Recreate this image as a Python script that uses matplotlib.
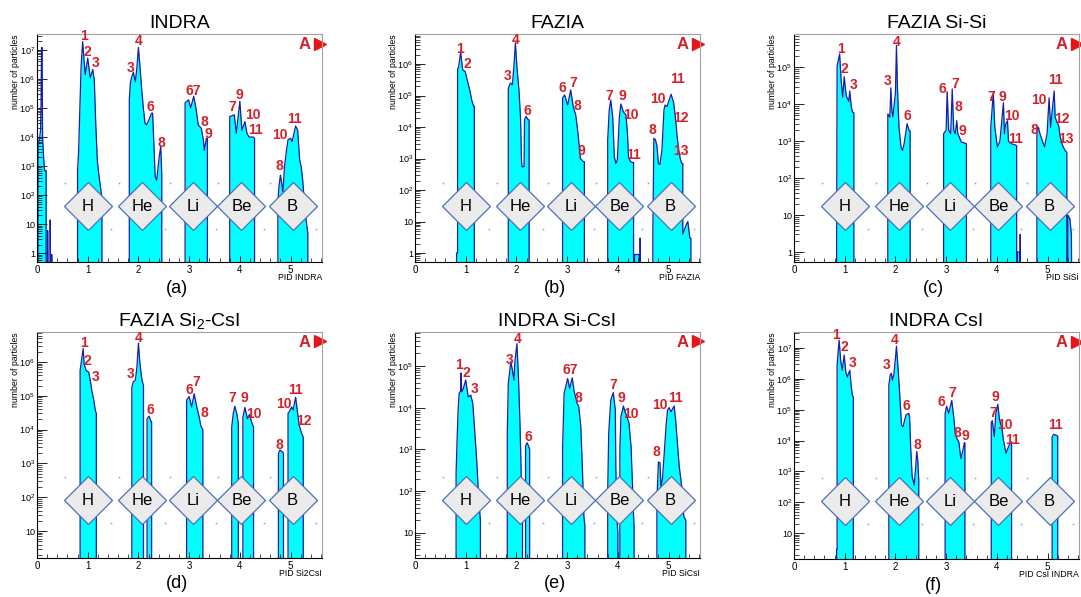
"""
Six PID spectra (INDRA / FAZIA telescopes), log-scale filled histograms
with element boxes and isotope mass labels.
"""
import numpy as np
import matplotlib
matplotlib.use('Agg')
import matplotlib.pyplot as plt
from matplotlib.ticker import FixedLocator, MultipleLocator, FuncFormatter, NullFormatter
from matplotlib.transforms import offset_copy

plt.rcParams['font.family'] = ['Liberation Sans', 'DejaVu Sans']
plt.rcParams['mathtext.fontset'] = 'custom'
plt.rcParams['mathtext.rm'] = 'Liberation Sans'
plt.rcParams['mathtext.it'] = 'Liberation Sans:italic'
plt.rcParams['mathtext.bf'] = 'Liberation Sans:bold'

F = 1e-2  # empty bins (below every y range)

# ---- histogram outlines: (PID, counts) ----
INDRA_HIST = [
    (0.02, F), (0.02, 5e3), (0.05, 9e3), (0.07, 1.7e4), (0.08, 1.5e5), (0.09, 1.2e7), (0.10, 1.2e7),
    (0.11, 1e4), (0.13, 2e3), (0.15, 7e2), (0.18, 7e2), (0.18, F), (0.21, F), (0.21, 6), (0.22, F),
    (0.26, F), (0.26, 14), (0.27, F), (0.29, F), (0.29, 0.9), (0.30, F),
    (0.80, F), (0.80, 700), (0.82, 3e3), (0.85, 1.9e5), (0.87, 2.7e6), (0.90, 1.9e7), (0.95, 1.4e6),
    (1.00, 5.2e6), (1.05, 1.1e6), (1.10, 2.1e6), (1.13, 9e5), (1.16, 2.5e4), (1.19, 1.5e3),
    (1.22, 500), (1.25, 200), (1.28, 80), (1.28, F),
    (1.82, F), (1.82, 1.9e5), (1.84, 7e5), (1.87, 1.2e6), (1.90, 1.7e6), (1.94, 8e5), (1.97, 2.5e6),
    (2.00, 1.2e7), (2.03, 2.75e6), (2.06, 5.5e5), (2.10, 8.7e4), (2.13, 3e4), (2.16, 2.6e4),
    (2.21, 4e4), (2.26, 6.6e4), (2.28, 6.6e4), (2.31, 3.5e3), (2.33, 430), (2.36, 320),
    (2.41, 2.1e3), (2.44, 4.7e3), (2.46, 560), (2.46, F),
    (2.92, F), (2.92, 1.5e5), (2.99, 1.9e5), (3.03, 1e5), (3.09, 2.5e5), (3.13, 1.1e5), (3.18, 2.6e4),
    (3.24, 2e4), (3.28, 8e3), (3.30, 3.5e3), (3.34, 9e3), (3.36, 9e3), (3.36, F),
    (3.80, F), (3.80, 5e4), (3.89, 5.8e4), (3.93, 1.35e4), (4.00, 1.7e5), (4.04, 1.7e4), (4.10, 3.4e4),
    (4.14, 1.35e4), (4.18, 1e4), (4.26, 1e4), (4.29, 9e3), (4.29, F),
    (4.75, F), (4.75, 60), (4.77, 190), (4.80, 490), (4.85, 130), (4.88, 950), (4.92, 3.5e3),
    (4.95, 8e3), (5.00, 9e3), (5.03, 7e3), (5.10, 2.4e4), (5.14, 1.7e4), (5.18, 1.6e3),
    (5.21, 950), (5.24, 320), (5.29, 23), (5.34, 5), (5.34, F),
]
FAZIA_HIST = [
    (0.82, F), (0.82, 1), (0.84, 1), (0.84, 7e5), (0.86, 8e5), (0.90, 2.4e6), (0.94, 6.6e5),
    (0.99, 5.8e5), (1.02, 3.6e5), (1.08, 1.5e5), (1.12, 7e4), (1.16, 4.5e4), (1.17, 4.5e4), (1.17, F),
    (1.84, F), (1.84, 1.7e5), (1.88, 2.5e5), (1.92, 2.2e5), (1.95, 8.3e5), (1.98, 4.7e6), (2.01, 8e5),
    (2.05, 1.5e5), (2.08, 2.1e4), (2.10, 900), (2.11, 550), (2.15, 550), (2.16, 1.7e4),
    (2.19, 2.2e4), (2.23, 1.7e4), (2.25, 1.7e4), (2.25, F),
    (2.91, F), (2.91, 8.3e4), (2.95, 1.05e5), (3.01, 5e4), (3.07, 1.5e5), (3.12, 4.5e4), (3.17, 2.4e4),
    (3.20, 1e4), (3.24, 2.4e3), (3.26, 1e3), (3.28, 930), (3.32, 800), (3.34, 800), (3.34, F),
    (3.80, F), (3.80, 3.9e3), (3.83, 3.5e4), (3.86, 7.2e4), (3.90, 2e4), (3.93, 1.15e3), (3.96, 700),
    (3.99, 900), (4.03, 2.1e4), (4.06, 5.4e4), (4.11, 3e4), (4.16, 2.4e4), (4.19, 6.3e3),
    (4.21, 1.15e3), (4.25, 800), (4.29, 750), (4.31, 750), (4.31, F),
    (4.33, F), (4.33, 0.9), (4.42, 0.9), (4.42, F), (4.44, F), (4.44, 3), (4.45, F),
    (4.69, F), (4.69, 4), (4.71, 4.4e3), (4.74, 4e3), (4.77, 2.6e3), (4.80, 700), (4.83, 650),
    (4.87, 1.9e3), (4.91, 3.5e4), (4.93, 5e4), (4.97, 4.5e4), (5.05, 1.1e5), (5.10, 6e4),
    (5.14, 1.7e4), (5.17, 4.9e3), (5.20, 1.9e3), (5.23, 1e3), (5.26, 700), (5.28, 700),
    (5.28, 4), (5.35, 8), (5.38, 10), (5.42, 3), (5.44, 3), (5.44, F),
]
SISI_HIST = [
    (0.84, F), (0.84, 1), (0.85, 1.1e5), (0.90, 2.3e5), (0.93, 4.4e4), (0.96, 1.55e4), (0.99, 5.6e4),
    (1.03, 1.7e4), (1.08, 1.2e4), (1.10, 2.3e4), (1.13, 8.3e3), (1.16, 6e3), (1.18, 6e3), (1.18, F),
    (1.85, F), (1.85, 5.5e3), (1.89, 4.5e3), (1.91, 2.8e4), (1.93, 6.8e3), (1.95, 4.6e3), (2.00, 2e4),
    (2.02, 3.9e5), (2.04, 2.8e4), (2.07, 2.4e3), (2.11, 700), (2.14, 560), (2.17, 840),
    (2.21, 1.95e3), (2.23, 3e3), (2.27, 1.95e3), (2.29, 1.9e3), (2.29, F),
    (2.95, F), (2.95, 1.6e3), (3.00, 2e3), (3.02, 2.2e4), (3.05, 2e3), (3.09, 1.6e3), (3.12, 2.6e4),
    (3.15, 2e3), (3.18, 1.6e3), (3.21, 3.6e3), (3.23, 1.6e3), (3.26, 1.3e3), (3.30, 950),
    (3.36, 900), (3.40, 850), (3.40, F),
    (3.88, F), (3.88, 2.4e3), (3.93, 2.1e4), (3.96, 2.4e3), (4.01, 700), (4.06, 1e3), (4.13, 1.1e4),
    (4.15, 1.6e3), (4.17, 2.8e3), (4.21, 3.6e3), (4.23, 1e3), (4.29, 850), (4.36, 800),
    (4.39, 750), (4.39, F), (4.40, F), (4.40, 1), (4.45, 1), (4.45, F), (4.46, F), (4.46, 3), (4.47, F),
    (4.79, F), (4.79, 2.1e3), (4.82, 2.4e3), (4.85, 1.6e3), (4.94, 700), (4.99, 1.6e3), (5.03, 1.5e4),
    (5.06, 2.4e3), (5.13, 2.3e4), (5.15, 4.4e3), (5.22, 2.6e3), (5.25, 1.3e3), (5.30, 750),
    (5.35, 550), (5.38, 500), (5.38, F), (5.40, F), (5.40, 10), (5.44, 8), (5.47, 3), (5.48, F),
]
SI2CSI_HIST = [
    (0.85, F), (0.85, 5.6e5), (0.91, 2.5e6), (0.93, 8.5e5), (0.97, 5.6e5), (1.02, 5e5), (1.05, 2.9e5),
    (1.08, 1.45e5), (1.12, 7.4e4), (1.15, 3.7e4), (1.17, 3e4), (1.17, F),
    (1.87, F), (1.87, 1.8e5), (1.90, 2.6e5), (1.94, 2.9e5), (1.97, 7e5), (2.00, 3.6e6), (2.03, 9e5),
    (2.07, 2.9e5), (2.10, 2e5), (2.10, F),
    (2.17, F), (2.17, 2.1e4), (2.21, 2.5e4), (2.25, 1.7e4), (2.26, 1.7e4), (2.26, F),
    (2.95, F), (2.95, 7.4e4), (3.00, 9.5e4), (3.05, 4.7e4), (3.10, 1.15e5), (3.15, 4.7e4),
    (3.20, 2.3e4), (3.23, 1.3e4), (3.27, 1e4), (3.27, F),
    (3.84, F), (3.84, 1.2e4), (3.87, 3e4), (3.90, 4.9e4), (3.94, 3e4), (3.97, 1.5e4), (3.97, F),
    (4.06, F), (4.06, 2.3e4), (4.10, 4.5e4), (4.15, 2.1e4), (4.19, 2.8e4), (4.23, 1.7e4),
    (4.27, 1.2e4), (4.27, F),
    (4.76, F), (4.76, 1.95e3), (4.79, 2.5e3), (4.84, 2.2e3), (4.86, 2e3), (4.86, F),
    (4.95, F), (4.95, 3e4), (4.99, 3.7e4), (5.02, 4.7e4), (5.05, 3.8e4), (5.10, 9e4), (5.14, 3e4),
    (5.17, 1.35e4), (5.22, 7.6e3), (5.25, 6e3), (5.25, F),
]
SICSI_HIST = [
    (0.81, F), (0.81, 270), (0.83, 1.7e3), (0.85, 8.7e3), (0.87, 2.2e4), (0.90, 2.5e4), (0.91, 6.8e4),
    (0.92, 2.4e4), (0.95, 2.8e4), (1.00, 4.6e4), (1.05, 1.8e4), (1.10, 2e4), (1.14, 1.25e4),
    (1.18, 2.5e3), (1.22, 470), (1.25, 90), (1.27, 40), (1.29, 20), (1.29, F),
    (1.82, F), (1.82, 2.5e3), (1.84, 3.8e4), (1.89, 1.26e5), (1.92, 8e4), (1.95, 4.6e4), (1.97, 1.3e5),
    (2.01, 3.4e5), (2.04, 5.5e4), (2.07, 4.2e3), (2.10, 130), (2.12, 30), (2.12, F),
    (2.18, F), (2.18, 1.2e3), (2.21, 1.45e3), (2.24, 1.2e3), (2.26, 1e3), (2.26, F),
    (2.91, F), (2.91, 1e3), (2.94, 2.2e4), (3.01, 5e4), (3.05, 2.9e4), (3.10, 5.2e4), (3.14, 2.4e4),
    (3.20, 1.25e4), (3.23, 1.05e4), (3.27, 3.5e3), (3.30, 390), (3.33, 25), (3.35, 15), (3.35, F),
    (3.80, F), (3.80, 100), (3.82, 2.5e3), (3.86, 1.5e4), (3.91, 2.3e4), (3.95, 8.7e3), (3.96, 390),
    (3.98, 25), (4.00, 10), (4.00, F),
    (4.04, F), (4.04, 1e3), (4.06, 6e3), (4.11, 1.1e4), (4.14, 8e3), (4.18, 6e3), (4.22, 4.2e3),
    (4.26, 1.2e3), (4.29, 130), (4.31, 25), (4.32, 15), (4.32, F),
    (4.77, F), (4.77, 60), (4.80, 500), (4.83, 480), (4.85, 130), (4.88, 200), (4.92, 1e3),
    (4.95, 3.5e3), (4.98, 8.7e3), (5.01, 1e4), (5.05, 8e3), (5.11, 1.1e4), (5.14, 5e3),
    (5.17, 1.7e3), (5.21, 390), (5.26, 130), (5.30, 25), (5.34, 20), (5.34, F),
]
CSI_HIST = [
    (0.84, F), (0.84, 3), (0.85, 3), (0.85, 2.8e6), (0.89, 1.8e7), (0.92, 4e6), (0.95, 1.9e6),
    (0.99, 5.9e6), (1.02, 1.7e6), (1.05, 1.15e6), (1.10, 1.9e6), (1.13, 5.5e5), (1.15, 3e5),
    (1.17, 2.5e5), (1.17, F),
    (1.87, F), (1.87, 6.3e5), (1.90, 1.4e6), (1.92, 1.5e6), (1.94, 9e5), (1.97, 1.4e6), (2.00, 4.6e6),
    (2.02, 1.15e7), (2.05, 2.5e6), (2.08, 4.3e5), (2.12, 3.2e4), (2.15, 2.8e4), (2.18, 4.5e4),
    (2.21, 6.8e4), (2.26, 7.6e4), (2.28, 6e4), (2.30, 6.3e3), (2.33, 680), (2.37, 360),
    (2.40, 1.4e3), (2.42, 4.4e3), (2.44, 2.3e3), (2.46, 530), (2.46, F),
    (2.98, F), (2.98, 7.6e4), (3.01, 1.3e5), (3.05, 7.6e4), (3.11, 2e5), (3.15, 5.9e4), (3.18, 1.7e4),
    (3.21, 1.2e4), (3.25, 9e3), (3.29, 2.6e3), (3.33, 4.8e3), (3.36, 8.5e3), (3.37, 8.5e3), (3.37, F),
    (3.89, F), (3.89, 3.8e4), (3.91, 4.4e4), (3.95, 1.35e4), (3.98, 7.6e4), (4.02, 1.5e5), (4.05, 4.9e4),
    (4.10, 2.5e4), (4.13, 1.05e4), (4.18, 3.9e3), (4.23, 6.3e3), (4.27, 9e3), (4.29, 9e3), (4.29, F),
    (5.09, F), (5.09, 1.3e4), (5.12, 1.6e4), (5.18, 1.45e4), (5.20, 1.4e4), (5.20, F),
]

# ---- isotope mass labels: (text, PID, counts) ----
INDRA_MASS = [
    ("1", 0.92, 2.95e7), ("2", 1.00, 8.5e6), ("3", 1.15, 3.4e6), ("3", 1.85, 2.4e6), ("4", 2.00, 2e7),
    ("6", 2.23, 1.1e5), ("8", 2.46, 6e3), ("67", 3.08, 3.7e5), ("8", 3.31, 3.4e4), ("9", 3.37, 1.26e4),
    ("7", 3.85, 1.07e5), ("9", 4.00, 2.8e5), ("10", 4.25, 5.8e4), ("11", 4.31, 1.7e4),
    ("8", 4.77, 1e3), ("10", 4.78, 1.2e4), ("11", 5.08, 4.1e4),
]
FAZIA_MASS = [
    ("1", 0.88, 3e6), ("2", 1.04, 1e6), ("3", 1.82, 4.3e5), ("4", 1.98, 5.6e6), ("6", 2.21, 3.2e4),
    ("6", 2.91, 1.7e5), ("7", 3.12, 2.5e5), ("8", 3.20, 4.5e4), ("9", 3.29, 1.8e3),
    ("7", 3.83, 9.8e4), ("9", 4.08, 9.8e4), ("10", 4.25, 2.4e4), ("11", 4.31, 1.3e3),
    ("8", 4.69, 8e3), ("10", 4.79, 8e4), ("11", 5.18, 3.3e5), ("12", 5.25, 1.9e4), ("13", 5.25, 1.8e3),
]
SISI_MASS = [
    ("1", 0.93, 3.2e5), ("2", 0.99, 9e4), ("3", 1.17, 3.4e4), ("3", 1.85, 4.4e4), ("4", 2.02, 4.8e5),
    ("6", 2.24, 4.9e3), ("6", 2.93, 2.6e4), ("7", 3.17, 3.5e4), ("8", 3.25, 8.3e3), ("9", 3.33, 1.9e3),
    ("7", 3.88, 1.6e4), ("9", 4.11, 1.6e4), ("10", 4.29, 4.9e3), ("11", 4.36, 1.15e3),
    ("8", 4.74, 2e3), ("10", 4.83, 1.35e4), ("11", 5.15, 4.6e4), ("12", 5.28, 4e3), ("13", 5.37, 1.15e3),
]
SI2CSI_MASS = [
    ("1", 0.93, 3.6e6), ("2", 1.00, 1.07e6), ("3", 1.15, 3.5e5), ("3", 1.84, 4.5e5), ("4", 2.00, 5.2e6),
    ("6", 2.23, 3.9e4), ("6", 3.00, 1.5e5), ("7", 3.15, 2.6e5), ("8", 3.31, 3.1e4),
    ("7", 3.85, 8.5e4), ("9", 4.08, 8.5e4), ("10", 4.27, 2.95e4),
    ("8", 4.78, 3.6e3), ("10", 4.87, 5.9e4), ("11", 5.10, 1.5e5), ("12", 5.26, 1.86e4),
]
SICSI_MASS = [
    ("1", 0.86, 1.05e5), ("2", 1.02, 6.8e4), ("3", 1.18, 2.75e4), ("3", 1.86, 1.4e5), ("4", 2.02, 4.3e5),
    ("6", 2.24, 2e3), ("67", 3.07, 7.9e4), ("8", 3.22, 1.66e4),
    ("7", 3.91, 3.5e4), ("9", 4.07, 1.66e4), ("10", 4.25, 7.2e3),
    ("8", 4.75, 890), ("10", 4.83, 1.15e4), ("11", 5.14, 1.74e4),
]
CSI_MASS = [
    ("1", 0.83, 2.7e7), ("2", 0.99, 1.07e7), ("3", 1.15, 3.3e6), ("3", 1.82, 2.75e6), ("4", 1.99, 1.86e7),
    ("6", 2.21, 1.3e5), ("8", 2.44, 7.2e3), ("6", 2.90, 1.8e5), ("7", 3.13, 3.4e5), ("8", 3.22, 1.8e4),
    ("9", 3.38, 1.4e4), ("7", 3.92, 7.9e4), ("9", 3.98, 2.5e5), ("10", 4.16, 3.2e4), ("11", 4.31, 1.05e4),
    ("11", 5.15, 3.2e4),
]

ELEMENTS = ['H', 'He', 'Li', 'Be', 'B']
ELEMENT_PID = [1.0, 2.08, 3.08, 4.03, 5.04]

TITLES = ['INDRA', 'FAZIA', 'FAZIA Si-Si', r'FAZIA Si$_2$-CsI', 'INDRA Si-CsI', 'INDRA CsI']
XLABELS = ['PID INDRA', 'PID FAZIA', 'PID SiSi', 'PID Si2CsI', 'PID SiCsI', 'PID CsI INDRA']
TAGS = ['(a)', '(b)', '(c)', '(d)', '(e)', '(f)']
HISTS = [INDRA_HIST, FAZIA_HIST, SISI_HIST, SI2CSI_HIST, SICSI_HIST, CSI_HIST]
MASSES = [INDRA_MASS, FAZIA_MASS, SISI_MASS, SI2CSI_MASS, SICSI_MASS, CSI_MASS]
YLIMS = [(0.5, 3.5e7), (0.52, 9e6), (0.54, 8e5), (1.6, 7.7e6), (2.5, 6.5e5), (1.45, 3.3e7)]

RED = '#d4202a'
W, H = 1081, 597
# axes boxes in pixels: left, top, right, bottom
BOXES = [(37, 34, 322, 262), (415, 34, 700, 262), (794, 34, 1079, 262),
         (37, 332, 322, 558), (415, 332, 700, 558), (794, 332, 1079, 559)]


def ytick_fmt(v, pos):
    e = int(round(np.log10(v)))
    if e == 0:
        return '1'
    if e == 1:
        return '10'
    return r'$10^{%d}$' % e


def draw_panel(fig, box, hist, masses, ylim, title, xlabel, tag, diamond_y):
    l, t, r, b = box
    ax = fig.add_axes([l / W, 1 - b / H, (r - l) / W, (b - t) / H])
    pts = np.array(hist)
    ax.fill_between(pts[:, 0], F, pts[:, 1], color='#00ffff', lw=0)
    ax.plot(pts[:, 0], pts[:, 1], color='#1c1ca8', lw=0.9)
    ax.set_yscale('log')
    ax.set_xlim(0, 5.62)
    ax.set_ylim(*ylim)

    # only decades (and sub-decade ticks) inside the visible range
    lo, hi = np.log10(ylim[0]), np.log10(ylim[1])
    decades = np.arange(int(np.floor(lo)), int(np.ceil(hi)) + 1)
    major = [10.0 ** d for d in decades if lo <= d <= hi]
    minor = [s * 10.0 ** d for d in decades for s in range(2, 10) if lo <= d + np.log10(s) <= hi]
    ax.yaxis.set_major_locator(FixedLocator(major))
    ax.yaxis.set_minor_locator(FixedLocator(minor))
    ax.yaxis.set_major_formatter(FuncFormatter(ytick_fmt))
    ax.yaxis.set_minor_formatter(NullFormatter())
    ax.xaxis.set_major_locator(MultipleLocator(1))
    ax.xaxis.set_minor_locator(MultipleLocator(0.2))
    ax.tick_params(axis='y', which='major', direction='in', length=7, width=0.6, labelsize=6.5, pad=1.5)
    ax.tick_params(axis='y', which='minor', direction='in', length=3.5, width=0.5)
    ax.tick_params(axis='x', which='major', direction='in', length=4.5, width=0.6, labelsize=7, pad=2)
    ax.tick_params(axis='x', which='minor', direction='in', length=3, width=0.5)
    for side in ('top', 'right'):
        ax.spines[side].set_color('#a0a0a0')
    for sp in ax.spines.values():
        sp.set_linewidth(0.8)

    ax.set_title(title, fontsize=14, pad=4)
    ax.text(0.49, -0.115, tag, transform=ax.transAxes, ha='center', va='center', fontsize=13)
    ax.text(1.0, -0.07, xlabel, transform=ax.transAxes, ha='right', va='center', fontsize=6.3)
    ax.text(-0.075, 1.0, 'number of particles', transform=ax.transAxes, rotation=90,
            ha='center', va='top', fontsize=6.3)

    # "A" marker at top right
    ax.text(0.94, 0.955, 'A', transform=ax.transAxes, ha='center', va='center',
            color=RED, fontsize=12, fontweight='bold')
    ax.plot([0.992], [0.958], marker='>', ms=8, color='#e8141c', transform=ax.transAxes,
            clip_on=False)

    # isotope labels
    for s, x, y in masses:
        ax.text(x, y, s, ha='center', va='center', color=RED, fontsize=10, fontweight='bold', zorder=4)

    # element boxes
    trans = ax.get_xaxis_transform()
    for name, cx in zip(ELEMENTS, ELEMENT_PID):
        ax.plot([cx], [diamond_y], marker='D', ms=24, mfc='#ebebeb', mec='#4a70b8', mew=0.9,
                transform=trans, zorder=5, clip_on=False)
        ax.text(cx, diamond_y, name, transform=trans, ha='center', va='center', fontsize=12, zorder=6)
        for dx, dy in ((-23, 23), (23, -23)):
            tr = offset_copy(trans, fig=fig, x=dx, y=dy, units='dots')
            ax.plot([cx], [diamond_y], marker='s', ms=1.1, color='#8aa0c8', mew=0,
                    transform=tr, zorder=3)
    return ax


fig = plt.figure(figsize=(W / 100, H / 100), dpi=100)
for i in range(6):
    draw_panel(fig, BOXES[i], HISTS[i], MASSES[i], YLIMS[i], TITLES[i], XLABELS[i], TAGS[i],
               0.245 if i < 3 else 0.255)

fig.savefig('out.png', dpi=100)
plt.close(fig)
